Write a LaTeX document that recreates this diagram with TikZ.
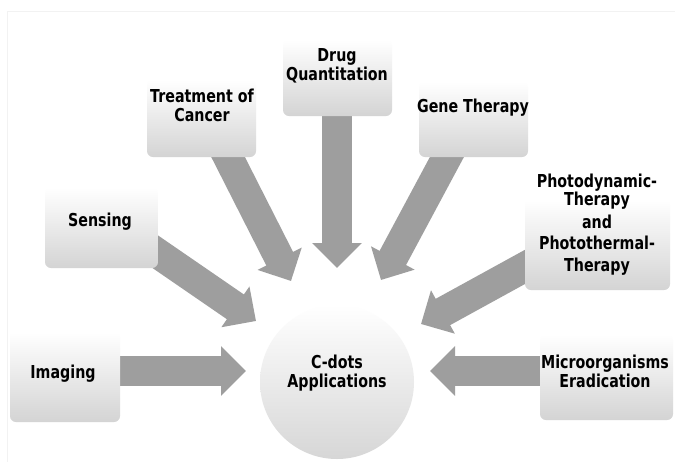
\documentclass[tikz,border=0pt]{standalone}
\usepackage{fontspec}
\newfontfamily\lblfont{DejaVu Sans}[FakeStretch=0.8]
\usetikzlibrary{arrows.meta,calc}
\pgfdeclarelayer{bg}
\pgfdeclarelayer{back}
\pgfdeclarelayer{mid}
\pgfsetlayers{bg,back,mid,main}
\definecolor{arrowgray}{RGB}{158,158,158}
\begin{document}
\begin{tikzpicture}[x=1pt,y=-1pt,
  box/.style={rounded corners=6pt, top color=white, middle color=white, bottom color=black!17, draw=none, inner sep=0pt},
  lbl/.style={font=\lblfont\bfseries\fontsize{17.8}{18.5}\selectfont, align=center, inner sep=0pt, anchor=base},
  bigarrow/.style={draw=arrowgray, line width=30pt, -{Triangle[width=48pt,length=25pt]}, fill=arrowgray}]
\useasboundingbox (0,0) rectangle (675,461);
\begin{pgfonlayer}{bg}
\fill[white] (0,0) rectangle (675,461);
\draw[black!5] (7,11) rectangle (690,475);
\end{pgfonlayer}

% boxes
\node[box, minimum width=110pt, minimum height=90pt] (img) at (65,377) {};
\node[box, minimum width=113pt, minimum height=80pt] (sen) at (101.5,228) {};
\node[box, minimum width=109pt, minimum height=77pt] (trt) at (201.5,118.5) {};
\node[box, minimum width=109pt, minimum height=76pt] (drug) at (337.5,78) {};
\node[box, minimum width=109pt, minimum height=75pt] (gene) at (473.5,119.5) {};
\node[box, minimum width=145pt, minimum height=90pt] (photo) at (597.5,245) {};
\node[box, minimum width=133pt, minimum height=85pt] (micro) at (606.5,377.5) {};

% labels (base = baseline of last line)
\node[lbl] (timg) at (63,378) {Imaging};
\node[lbl] (tsen) at (100,226) {Sensing};
\node[lbl] (ttrt) at (202,121) {Treatment of\\Cancer};
\node[lbl] (tdrug) at (337,80) {Drug\\Quantitation};
\node[lbl] (tgene) at (473,112) {Gene Therapy};
\node[lbl] (tphoto) at (597,271) {Photodynamic-\\Therapy\\[4pt]and\\[3pt]Photothermal-\\[3pt]Therapy};
\node[lbl] (tmicro) at (605,387) {Microorganisms\\Eradication};
\node[lbl] (tcd) at (337,387) {C-dots\\Applications};

% centre circle
\begin{pgfonlayer}{back}
\node[circle, minimum size=154pt, inner sep=0pt, top color=white, middle color=white, bottom color=black!16, draw=none] (cd) at (337,382) {};
\end{pgfonlayer}

% arrow tips
\coordinate (tipImg) at (246,371);
\coordinate (tipSen) at (256,321);
\coordinate (tipTrt) at (291,281);
\coordinate (tipDrug) at (337,268);
\coordinate (tipGene) at (381,280);
\coordinate (tipPhoto) at (421,324);
\coordinate (tipMicro) at (430,371);

\begin{pgfonlayer}{mid}
\draw[bigarrow] ([shift={(-10,-6)}]img.east) -- (tipImg);
\draw[bigarrow] ([shift={(-28,6.5)}]sen.east) -- (tipSen);
\draw[bigarrow] ([shift={(16.5,-20)}]trt.south) -- (tipTrt);
\draw[bigarrow] ([shift={(-0.5,-16)}]drug.south) -- (tipDrug);
\draw[bigarrow] ([shift={(-16.5,-19)}]gene.south) -- (tipGene);
\draw[bigarrow] ([shift={(20,11)}]photo.west) -- (tipPhoto);
\draw[bigarrow] ([shift={(15,-6.5)}]micro.west) -- (tipMicro);
\end{pgfonlayer}
\end{tikzpicture}
\end{document}
